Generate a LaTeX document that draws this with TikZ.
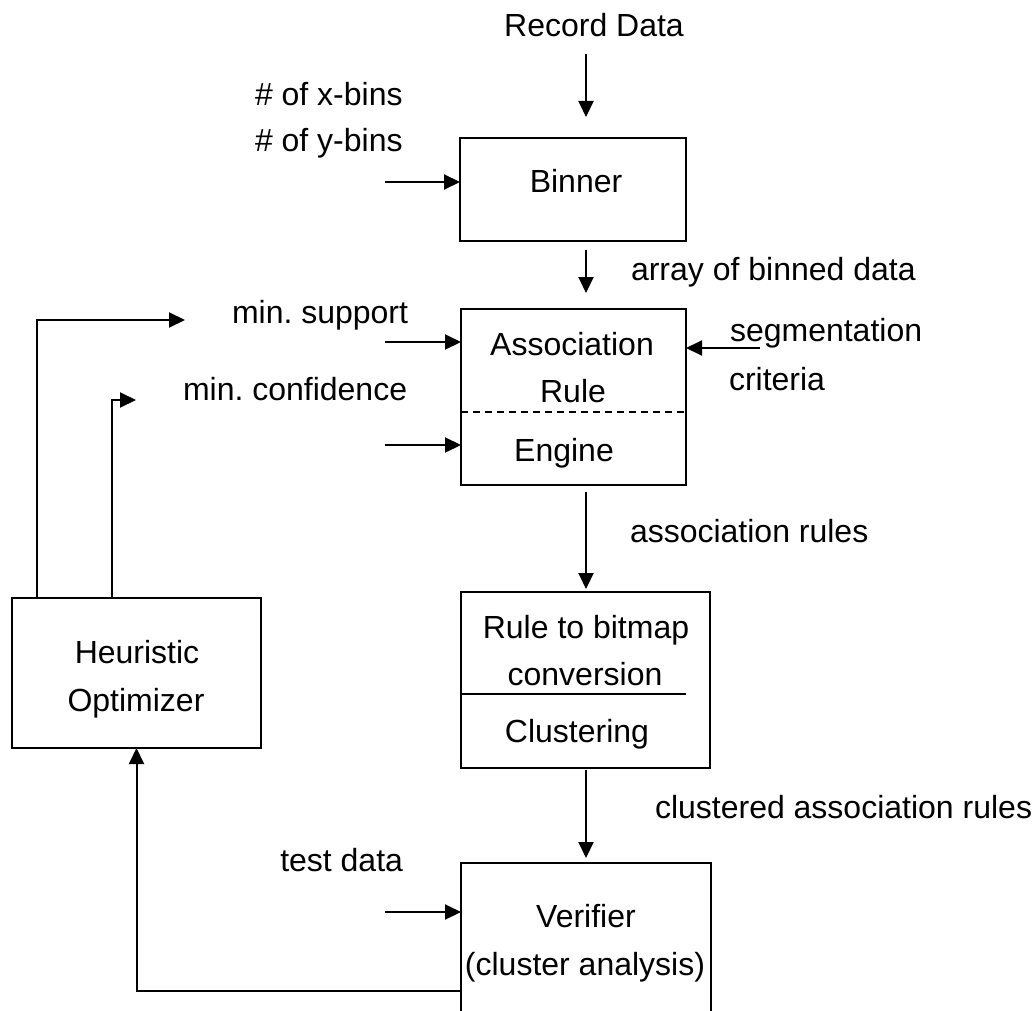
\documentclass[tikz,border=0pt]{standalone}
\usepackage{fontspec}
\setmainfont{Liberation Sans}
\frenchspacing
\usetikzlibrary{arrows.meta,fit}
\begin{document}
\begin{tikzpicture}[x=0.5pt,y=-0.5pt,
  box/.style={draw,line width=1.1pt,inner sep=0pt,outer sep=0pt},
  lbl/.style={inner sep=0pt,outer sep=0pt,font=\fontsize{16}{19}\selectfont},
  arr/.style={line width=1pt,-{Triangle[length=8pt,width=7.5pt]}},
  wire/.style={line width=1pt}]
\useasboundingbox (0,0) rectangle (1036,1010);
\clip (0,0) rectangle (1036,1010);

% processing blocks
\node[box,fit={(460,138) (686,241)}] (bin) {};
\node[box,fit={(461,309) (686,485)}] (assoc) {};
\node[box,fit={(461,592) (710,768)}] (rule) {};
\node[box,fit={(12,598) (261,748)}] (heur) {};
\node[box,fit={(461,863) (711,1040)}] (ver) {};

% separators inside blocks
\draw[line width=0.9pt,dash pattern=on 3.5pt off 2.5pt] (assoc.west |- 0,412) -- (assoc.east |- 0,412);
\draw[wire] (rule.west |- 0,694) -- (686,694);

% block texts
\node[lbl,anchor=base] (tbin) at (576,193) {Binner};
\node[lbl,anchor=base] (t1) at (572,355) {Association};
\node[lbl,anchor=base] (t2) at (573,402) {Rule};
\node[lbl,anchor=base] (t3) at (564,461) {Engine};
\node[lbl,anchor=base] (r1) at (586,638) {Rule to bitmap};
\node[lbl,anchor=base] (r2) at (585,685) {conversion};
\node[lbl,anchor=base] (r3) at (577,742) {Clustering};
\node[lbl,anchor=base] (v1) at (586,927) {Verifier};
\node[lbl,anchor=base] (v2) at (585,975) {(cluster analysis)};
\node[lbl,anchor=base] (h1) at (137,663) {Heuristic};
\node[lbl,anchor=base] (h2) at (136,711) {Optimizer};

% data labels
\node[lbl,anchor=base] (rec) at (594,37) {Record Data};
\node[lbl,anchor=base west] (xb) at (255,106) {\# of x-bins};
\node[lbl,anchor=base west] (yb) at (255,152) {\# of y-bins};
\node[lbl,anchor=base west] (abd) at (631,280) {array of binned data};
\node[lbl,anchor=base west] (msup) at (232,323) {min. support};
\node[lbl,anchor=base west] (mconf) at (183,400) {min. confidence};
\node[lbl,anchor=base west] (seg) at (730,341) {segmentation};
\node[lbl,anchor=base west] (crit) at (729,390) {criteria};
\node[lbl,anchor=base west] (ar) at (630,542) {association rules};
\node[lbl,anchor=base west] (car) at (655,818) {clustered association rules};
\node[lbl,anchor=base east] (td) at (403,871) {test data};

% free ends of the flow arrows
\coordinate (recA) at (586,54);   \coordinate (recB) at (586,117);
\coordinate (abdA) at (586,250);  \coordinate (abdB) at (586,293);
\coordinate (arA)  at (586,492);  \coordinate (arB)  at (586,589);
\coordinate (carA) at (586,770);  \coordinate (carB) at (586,858);
\coordinate (binIn) at (385,182);
\coordinate (supIn) at (385,342);
\coordinate (confIn) at (385,445);
\coordinate (segIn) at (760,348);
\coordinate (tdIn) at (385,912);
\coordinate (supOut) at (185,320);
\coordinate (confOut) at (136,400);

% main flow
\draw[arr] (recA) -- (recB);
\draw[arr] (binIn) -- (binIn -| bin.west);
\draw[arr] (abdA) -- (abdB);
\draw[arr] (supIn) -- (supIn -| assoc.west);
\draw[arr] (confIn) -- (confIn -| assoc.west);
\draw[arr] (segIn) -- (segIn -| assoc.east);
\draw[arr] (arA) -- (arB);
\draw[arr] (carA) -- (carB);
\draw[arr] (tdIn) -- (tdIn -| ver.west);

% feedback loop through the optimizer
\draw[arr] (ver.west |- 0,991) -| (heur.south);
\draw[arr] (37,0 |- heur.north) |- (supOut);
\draw[arr] (112,0 |- heur.north) |- (confOut);
\end{tikzpicture}
\end{document}
